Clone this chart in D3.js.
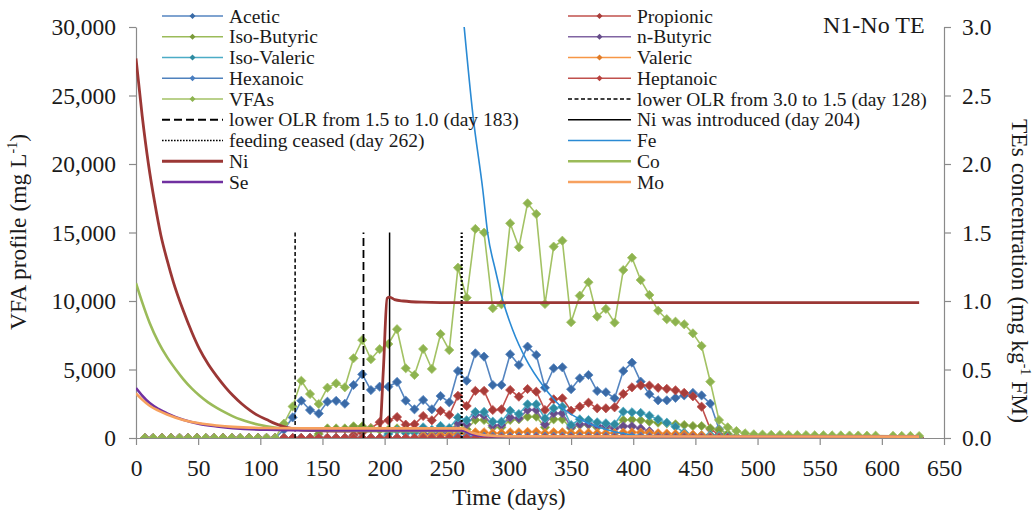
<!DOCTYPE html>
<html><head><meta charset="utf-8">
<script src="https://cdn.jsdelivr.net/npm/d3@7"></script>
<style>
body{margin:0;background:#fff}
text{font-family:"Liberation Serif","Times New Roman",serif;fill:#1a1a1a}
</style>
</head><body>
<svg id="c" width="1036" height="515"></svg>
<script>
// ---------------- DATA ----------------
const days = [7,14,21,28,35,42,49,56,63,70,77,84,91,98,105,112,
 119,126,133,140,147,154,161,168,175,182,
 189,196,203,210,217,224,231,238,245,252,
 259,266,273,280,287,294,301,308,315,322,
 329,336,343,350,357,364,371,378,385,392,
 399,406,413,420,427,434,441,448,455,462,
 469,476,483,490,497,504,511,518,525,532,
 539,546,553,560,567,574,581,588,595,
 609,616,623,630];

const acetic = [0,0,0,0,0,0,0,0,0,0,0,0,0,0,0,0,
 600,1500,2720,2040,1780,2650,2710,2500,3870,4650,
 3500,3745,3745,4090,2725,2095,2774,2095,3066,2606,
 4890,4180,6180,5940,3870,3870,6110,5330,6670,6060,
 3670,5090,5160,3560,4360,4600,3430,3340,2900,4890,
 5500,4110,3200,2750,2750,2930,3110,3290,3110,2510,
 650,280,100,40,0,0,0,0,0,0,
 0,0,0,0,0,0,0,0,0,
 0,0,0,0];
const propionic = [0,0,0,0,0,0,0,0,0,0,0,0,0,0,0,0,
 0,0,0,0,0,0,0,0,200,400,
 720,1150,1290,1530,975,1000,1606,1290,1980,1680,
 3080,2336,3440,3440,2044,2090,3504,3015,3577,3380,
 2044,2825,2898,1993,2285,2577,2168,2168,2241,3220,
 3701,3840,3830,3665,3590,3480,3300,3040,2285,650,
 250,50,0,0,0,0,0,0,0,0,
 0,0,0,0,0,0,0,0,0,
 0,0,0,0];
const isoButyric = [0,0,0,0,0,0,0,0,0,0,0,0,0,0,0,0,
 0,0,0,0,300,700,700,700,850,850,
 700,600,600,700,500,450,600,500,650,600,
 1050,633,1314,1314,781,781,1314,1365,1555,1555,
 781,1365,1365,708,949,949,781,781,781,1314,
 1340,1290,1190,1117,1073,1000,949,876,876,708,
 584,300,100,0,0,0,0,0,0,0,
 0,0,0,0,0,0,0,0,0,
 0,0,0,0];
const nButyric = [0,0,0,0,0,0,0,0,0,0,0,0,0,0,0,0,
 0,0,0,0,0,0,0,0,0,0,
 0,0,0,0,0,0,300,250,400,350,
 1100,1000,1700,1650,900,950,1500,1450,2050,2050,
 1000,1800,1800,800,1000,1000,900,900,700,850,
 850,700,500,300,150,50,0,0,0,0,
 0,0,0,0,0,0,0,0,0,0,
 0,0,0,0,0,0,0,0,0,
 0,0,0,0];
const isoValeric = [0,0,0,0,0,0,0,0,0,0,0,0,0,0,0,0,
 0,0,0,0,0,0,0,0,0,0,
 0,0,300,550,350,400,780,600,880,730,
 1500,1290,1900,1900,1190,1190,1993,1752,2460,2460,
 1438,2168,2285,949,1365,1314,1146,1073,1000,1920,
 1880,1830,1628,1365,1117,825,387,219,219,219,
 150,80,0,0,0,0,0,0,0,0,
 0,0,0,0,0,0,0,0,0,
 0,0,0,0];
const valeric = [0,0,0,0,0,0,0,0,0,0,0,0,0,0,0,0,
 0,0,0,0,0,0,0,0,0,0,
 0,0,0,0,0,0,150,150,200,200,
 300,300,420,420,350,350,420,420,450,450,
 350,420,420,350,380,380,350,350,350,400,
 420,400,380,350,330,300,280,250,200,100,
 50,0,0,0,0,0,0,0,0,0,
 0,0,0,0,0,0,0,0,0,
 0,0,0,0];
const hexanoic = [0,0,0,0,0,0,0,0,0,0,0,0,0,0,0,0,
 0,0,0,0,0,0,0,0,0,0,
 0,0,0,0,0,0,0,0,0,0,
 100,100,100,100,100,100,100,100,100,100,
 100,100,100,100,100,100,100,100,100,100,
 100,100,80,80,60,60,50,40,30,20,
 0,0,0,0,0,0,0,0,0,0,
 0,0,0,0,0,0,0,0,0,
 0,0,0,0];
const heptanoic = [0,0,0,0,0,0,0,0,0,0,0,0,0,0,0,0,
 0,0,0,0,0,0,0,0,0,0,
 0,0,0,0,0,0,0,0,0,0,
 0,0,0,0,0,0,0,0,0,0,
 0,0,0,0,0,0,0,0,0,0,
 0,0,0,0,0,0,0,0,0,0,
 0,0,0,0,0,0,0,0,0,0,
 0,0,0,0,0,0,0,0,0,
 0,0,0,0];
const vfas = [0,0,0,0,0,0,0,0,0,0,0,0,0,0,0,0,
 1050,2300,4180,3210,2480,3670,3990,3700,5820,7150,
 5750,6480,6860,7940,5090,4600,6500,5040,7590,6420,
 12430,10240,15260,14990,9470,9760,15670,13920,17130,16350,
 9780,13970,14400,8450,10390,11370,8860,9420,8420,12260,
 13160,11530,10440,9290,8670,8490,8300,7640,6720,4110,
 1310,780,510,340,270,250,230,220,220,210,
 210,200,200,190,190,180,180,170,170,
 160,150,150,140];

// trace elements (right axis, mg/kg FM)
const niDays = [0,5,10,15,20,25,30,38,45,51,58,65,72,78,85,92,98,105,112,118,125,132,140,160,180,196,199,202,204,208,215,230,260,300,400,500,630];
const niVals = [2.77,2.35,2.0,1.72,1.48,1.30,1.14,0.93,0.77,0.65,0.54,0.45,0.37,0.31,0.25,0.20,0.165,0.135,0.105,0.085,0.07,0.06,0.055,0.05,0.05,0.06,0.5,1.02,1.028,1.01,1.0,0.992,0.988,0.988,0.988,0.988,0.988];
const coDays = [0,5,11,18,25,32,38,45,51,58,65,72,78,85,92,98,105,118,130,150,200,262,270,280,300,630];
const coVals = [1.13,0.99,0.84,0.70,0.59,0.50,0.43,0.36,0.31,0.26,0.22,0.185,0.158,0.133,0.113,0.098,0.085,0.068,0.06,0.055,0.05,0.05,0.035,0.02,0.01,0.01];
const seDays = [0,5,11,18,25,38,51,65,78,105,150,262,270,280,300,630];
const seVals = [0.365,0.31,0.255,0.212,0.18,0.133,0.103,0.085,0.072,0.06,0.056,0.055,0.03,0.015,0.01,0.01];
const moDays = [0,5,11,18,25,38,51,65,78,105,150,262,270,280,300,630];
const moVals = [0.326,0.28,0.235,0.2,0.172,0.132,0.107,0.091,0.081,0.073,0.07,0.07,0.04,0.02,0.012,0.01];
const feDays = [264,271,279,283,289,295,303,314,328,342,364,385,407,450,630];
const feVals = [3.0,2.36,1.81,1.49,1.23,1.007,0.79,0.57,0.374,0.228,0.107,0.046,0.017,0.01,0.01];

const eventDays = [128,183,204,262];
const eventTop = 15000;

const xTicks = [0,50,100,150,200,250,300,350,400,450,500,550,600,650];
const yLeftTicks = [0,5000,10000,15000,20000,25000,30000];
const yRightTicks = [0,0.5,1.0,1.5,2.0,2.5,3.0];

const legendLeft = ["Acetic","Iso-Butyric","Iso-Valeric","Hexanoic","VFAs","lower OLR from 1.5 to 1.0 (day 183)","feeding ceased (day 262)","Ni","Se"];
const legendRight = ["Propionic","n-Butyric","Valeric","Heptanoic","lower OLR from 3.0 to 1.5 (day 128)","Ni was introduced (day 204)","Fe","Co","Mo"];

// ---------------- STYLES ----------------
const vfaSeries = [
 {name:"Acetic", vals:acetic, line:"#5585c0", mark:"#3a6aa6"},
 {name:"Propionic", vals:propionic, line:"#c0504d", mark:"#a83d3a"},
 {name:"Iso-Butyric", vals:isoButyric, line:"#9bbb59", mark:"#7a9a3a"},
 {name:"n-Butyric", vals:nButyric, line:"#8064a2", mark:"#664d8a"},
 {name:"Iso-Valeric", vals:isoValeric, line:"#4bacc6", mark:"#2f8aa0"},
 {name:"Valeric", vals:valeric, line:"#f79646", mark:"#e07b26"},
 {name:"Hexanoic", vals:hexanoic, line:"#4f81bd", mark:"#4a7ec0"},
 {name:"Heptanoic", vals:heptanoic, line:"#c0504d", mark:"#b9423e"},
 {name:"VFAs", vals:vfas, line:"#a3c264", mark:"#8db34f"}
];
const teSeries = [
 {name:"Fe", d:feDays, v:feVals, color:"#2a8ad4", w:1.6},
 {name:"Ni", d:niDays, v:niVals, color:"#9b3735", w:2.8},
 {name:"Co", d:coDays, v:coVals, color:"#9bbb59", w:2.6},
 {name:"Se", d:seDays, v:seVals, color:"#7030a0", w:2.6},
 {name:"Mo", d:moDays, v:moVals, color:"#f7a15f", w:2.6}
];
const eventStyle = {
 128:{dash:"4,2.5", w:1.5},
 183:{dash:"8,4", w:1.8},
 204:{dash:null, w:1.5},
 262:{dash:"2,2", w:2.2}
};

// ---------------- CHART ----------------
const svg = d3.select("#c");
const L=136, R=944, T=27, B=438;
const x = d3.scaleLinear().domain([0,650]).range([L,R]);
const yL = d3.scaleLinear().domain([0,30000]).range([B,T]);
const yR = d3.scaleLinear().domain([0,3]).range([B,T]);
const axisColor = "#8a8a8a";

svg.append("defs").append("clipPath").attr("id","plot")
  .append("rect").attr("x",L).attr("y",T).attr("width",R-L).attr("height",B-T);

// axes
const gx = svg.append("g").attr("transform",`translate(0,${B})`)
  .call(d3.axisBottom(x).tickValues(xTicks).tickSize(7).tickSizeOuter(0).tickPadding(14));
const gyl = svg.append("g").attr("transform",`translate(${L},0)`)
  .call(d3.axisLeft(yL).tickValues(yLeftTicks).tickFormat(d3.format(",")).tickSize(7).tickSizeOuter(0).tickPadding(13));
const gyr = svg.append("g").attr("transform",`translate(${R},0)`)
  .call(d3.axisRight(yR).tickValues(yRightTicks).tickFormat(d3.format(".1f")).tickSize(7).tickSizeOuter(0).tickPadding(11));
[gx,gyl,gyr].forEach(g=>{
  g.select(".domain").attr("stroke",axisColor).attr("stroke-width",1.2);
  g.selectAll(".tick line").attr("stroke",axisColor).attr("stroke-width",1.2);
  g.selectAll(".tick text").attr("font-size",23.5).attr("fill","#1a1a1a")
    .attr("font-family",'"Liberation Serif","Times New Roman",serif');
});

const plot = svg.append("g").attr("clip-path","url(#plot)");
const diamond = r => `M0,${-r}L${r},0L0,${r}L${-r},0Z`;

// VFA series
const lineL = d3.line().x((d,i)=>x(days[i])).y(d=>yL(d));
vfaSeries.forEach(s=>{
  plot.append("path").attr("d",lineL(s.vals)).attr("fill","none")
    .attr("stroke",s.line).attr("stroke-width",1.6).attr("stroke-linejoin","round");
  plot.append("g").selectAll("path").data(s.vals).join("path")
    .attr("d",diamond(4.6))
    .attr("transform",(d,i)=>`translate(${x(days[i])},${yL(d)})`)
    .attr("fill",s.mark).attr("stroke",s.line).attr("stroke-width",0.8);
});

// event lines
eventDays.forEach(dd=>{
  const st = eventStyle[dd];
  plot.append("line").attr("x1",x(dd)).attr("x2",x(dd))
    .attr("y1",yL(0)).attr("y2",yL(eventTop))
    .attr("stroke","#000").attr("stroke-width",st.w)
    .attr("stroke-dasharray",st.dash);
});

// trace elements
teSeries.forEach(s=>{
  const ln = d3.line().curve(d3.curveMonotoneX).x((d,i)=>x(s.d[i])).y(d=>yR(d));
  plot.append("path").attr("d",ln(s.v)).attr("fill","none")
    .attr("stroke",s.color).attr("stroke-width",s.w).attr("stroke-linejoin","round");
});

// axis titles
svg.append("text").attr("x",509).attr("y",505).attr("text-anchor","middle")
  .attr("font-size",23.5).text("Time (days)");
const lt = svg.append("text").attr("transform","translate(26,232) rotate(-90)")
  .attr("text-anchor","middle").attr("font-size",23.5);
lt.append("tspan").text("VFA profile (mg L");
lt.append("tspan").attr("font-size",14).attr("dy",-9).text("-1");
lt.append("tspan").attr("dy",9).text(")");
const rt = svg.append("text").attr("transform","translate(1012,271) rotate(90)")
  .attr("text-anchor","middle").attr("font-size",23.5);
rt.append("tspan").text("TEs concentration (mg kg");
rt.append("tspan").attr("font-size",14).attr("dy",-9).text("-1");
rt.append("tspan").attr("dy",9).text(" FM)");

// title
svg.append("text").attr("x",823).attr("y",33).attr("font-size",24).text("N1-No TE");

// legend
const styleOf = name => {
  const v = vfaSeries.find(s=>s.name===name);
  if (v) return {color:v.line, mark:v.mark, w:1.6};
  const t = teSeries.find(s=>s.name===name);
  if (t) return {color:t.color, w:t.w};
  const m = name.match(/day (\d+)/);
  const st = eventStyle[+m[1]];
  return {color:"#000", w:st.w===2.2?1.6:st.w, dash:st.dash===null?null:(st.w===2.2?"1.6,1.4":st.dash)};
};
function drawLegend(items, x0, x1, tx) {
  items.forEach((name,i)=>{
    const cy = 16 + i*20.75;
    const st = styleOf(name);
    svg.append("line").attr("x1",x0).attr("x2",x1).attr("y1",cy).attr("y2",cy)
      .attr("stroke",st.color).attr("stroke-width",st.w).attr("stroke-dasharray",st.dash||null);
    if (st.mark) svg.append("path").attr("d",diamond(3))
      .attr("transform",`translate(${(x0+x1)/2},${cy})`).attr("fill",st.mark);
    svg.append("text").attr("x",tx).attr("y",cy).attr("dy","0.34em")
      .attr("font-size",19.5).text(name);
  });
}
drawLegend(legendLeft,162,223,229);
drawLegend(legendRight,568,631,637);
</script>
</body></html>
